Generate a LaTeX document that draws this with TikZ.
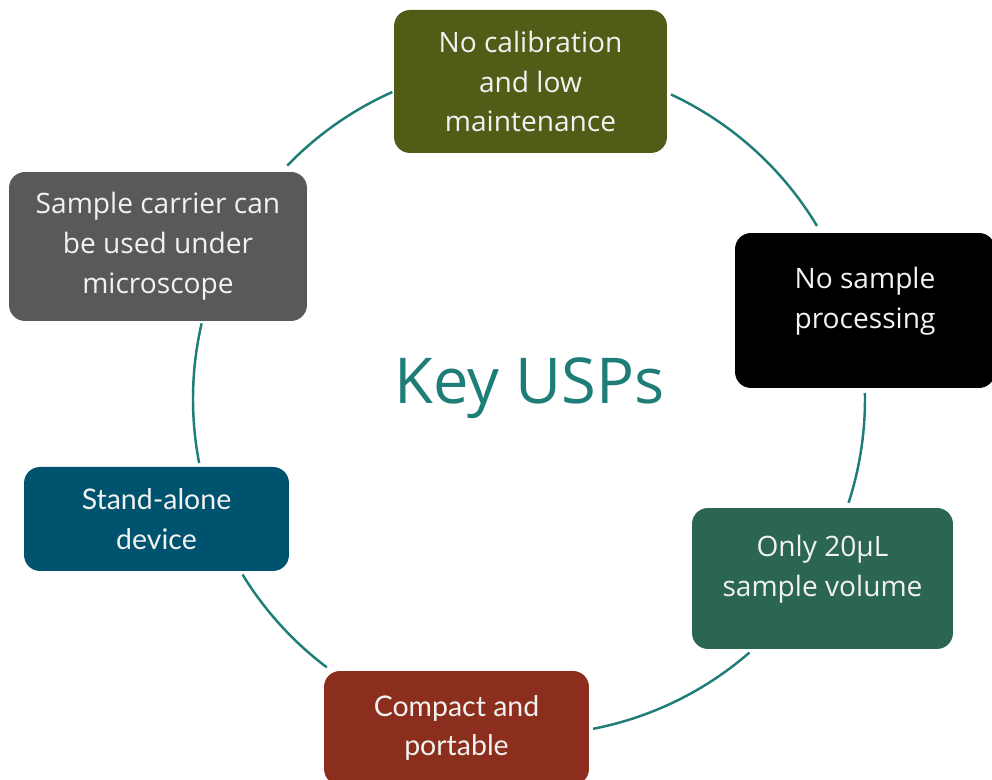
\documentclass[tikz,border=0pt]{standalone}
\usepackage{fontspec}
\setmainfont{Open Sans}
\newfontfamily\latofont{Lato}
\definecolor{uspolive}{HTML}{535C17}
\definecolor{uspblack}{HTML}{000000}
\definecolor{uspgreen}{HTML}{2A6652}
\definecolor{uspred}{HTML}{8C2E1D}
\definecolor{uspblue}{HTML}{00536F}
\definecolor{uspgray}{HTML}{595959}
\definecolor{uspteal}{HTML}{1E7D77}
\definecolor{usptext}{HTML}{F2F2F2}

\begin{document}
\begin{tikzpicture}[x=0.02cm,y=0.02cm,
    usp/.style={rectangle, rounded corners=0.32cm, inner sep=0pt, align=center,
      text=usptext, font=\fontsize{16}{22.7}\selectfont},
    usplato/.style={usp, font=\latofont\fontsize{16.2}{22.7}\selectfont},
    lift/.style={text depth=0.5cm},
    ring/.style={draw=uspteal, line width=1.4pt}]
  \useasboundingbox (0,0) rectangle (992,780);
  % Nodes
  \node[usp, fill=uspolive, minimum width=5.46cm, minimum height=2.86cm]
    (calib) at (530.5,698.5) {No calibration\\and low\\maintenance};
  \node[usp, lift, fill=uspblack, minimum width=5.2cm, minimum height=3.1cm]
    (proc) at (865,469.5) {No sample\\processing};
  \node[usp, lift, fill=uspgreen, minimum width=5.22cm, minimum height=2.82cm]
    (vol) at (822.5,201.5) {Only 20µL\\sample volume};
  \node[usplato, fill=uspred, minimum width=5.3cm, minimum height=2.28cm]
    (port) at (456.5,52) {Compact and\\portable};
  \node[usplato, fill=uspblue, minimum width=5.3cm, minimum height=2.08cm]
    (alone) at (156.5,261) {Stand-alone\\device};
  \node[usp, fill=uspgray, minimum width=5.96cm, minimum height=2.98cm]
    (micro) at (158,533.5) {Sample carrier can\\be used under\\microscope};
  \node[text=uspteal, font=\fontsize{36}{40}\selectfont]
    (key) at (529.5,392) {Key USPs};

  % Ring between the boxes
  \coordinate (hub) at (529,381);
  \foreach \a/\b in {114/136, 167/191, 211.5/233, 281/311, 342/361, 31/65}
    \draw[ring] (hub) ++(\a:336) arc[start angle=\a, end angle=\b, radius=336];
\end{tikzpicture}
\end{document}
